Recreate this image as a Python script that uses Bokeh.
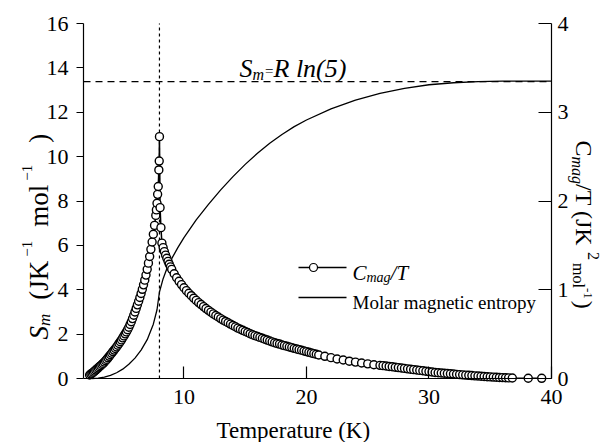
import math
from bokeh.plotting import figure
from bokeh.models import Range1d, LinearAxis, Label, FixedTicker
from bokeh.embed import file_html
from bokeh.resources import INLINE

# ---------------- data ----------------
# C_mag/T (J K^-2 mol^-1) vs temperature (K)
T_cmag = [2.30, 2.40, 2.50, 2.60, 2.70, 2.80, 2.90, 3.00, 3.10, 3.20, 3.30, 3.40, 3.50, 3.60, 3.70,
          3.80, 3.90, 4.00, 4.10, 4.20, 4.30, 4.40, 4.50, 4.60, 4.70, 4.80, 4.90, 5.00, 5.10, 5.20,
          5.30, 5.40, 5.50, 5.60, 5.70, 5.80, 5.90, 6.00, 6.10, 6.20, 6.30, 6.40, 6.50, 6.60, 6.70,
          6.80, 6.90, 7.00, 7.10, 7.20, 7.30, 7.40, 7.50, 7.60, 7.70, 7.75, 7.80, 7.85, 7.90, 7.95,
          7.98, 8.00,
          8.05, 8.12, 8.20, 8.30, 8.40, 8.50, 8.60, 8.70, 8.80, 8.90, 9.00, 9.20, 9.40, 9.60, 9.80,
          10.0, 10.2, 10.4, 10.6, 10.8, 11.0, 11.2, 11.4, 11.6, 11.8, 12.0, 12.2, 12.4, 12.6, 12.8,
          13.0, 13.2, 13.4, 13.6, 13.8, 14.0, 14.2, 14.4, 14.6, 14.8, 15.0, 15.2, 15.4, 15.6, 15.8,
          16.0, 16.2, 16.4, 16.6, 16.8, 17.0, 17.2, 17.4, 17.6, 17.8, 18.0, 18.2, 18.4, 18.6, 18.8,
          19.0, 19.2, 19.4, 19.6, 19.8, 20.0, 20.2, 20.4, 20.6, 20.8, 21.0,
          21.5, 22.0, 22.5, 23.0, 23.5, 24.0, 24.5, 25.0, 25.5, 26.0,
          26.25, 26.50, 26.75, 27.00, 27.25, 27.50, 27.75, 28.00, 28.25, 28.50, 28.75, 29.00,
          29.25, 29.50, 29.75, 30.00, 30.25, 30.50, 30.75, 31.00, 31.25, 31.50, 31.75, 32.00,
          32.25, 32.50, 32.75, 33.00, 33.25, 33.50, 33.75, 34.00, 34.25, 34.50, 34.75, 35.00,
          35.25, 35.50, 35.75, 36.00, 36.25, 36.50, 36.80, 38.10, 39.20]
cmag_T = [0.040, 0.050, 0.060, 0.070, 0.083, 0.095, 0.108, 0.120, 0.133, 0.145, 0.158, 0.170, 0.185, 0.200, 0.215,
          0.233, 0.250, 0.268, 0.285, 0.303, 0.320, 0.338, 0.355, 0.375, 0.395, 0.415, 0.435, 0.458, 0.480, 0.503,
          0.525, 0.550, 0.578, 0.608, 0.640, 0.675, 0.713, 0.750, 0.790, 0.830, 0.870, 0.913, 0.958, 1.005, 1.055,
          1.108, 1.165, 1.230, 1.300, 1.375, 1.455, 1.538, 1.625, 1.725, 1.838, 1.900, 1.975, 2.075, 2.163, 2.350,
          2.450, 2.725,
          1.925, 1.700, 1.525, 1.475, 1.430, 1.390, 1.355, 1.320, 1.288, 1.258, 1.230, 1.180, 1.135, 1.095, 1.058,
          1.023, 0.990, 0.960, 0.933, 0.905, 0.880, 0.855, 0.833, 0.810, 0.788, 0.768, 0.748, 0.728, 0.710, 0.693,
          0.675, 0.658, 0.643, 0.628, 0.613, 0.598, 0.583, 0.568, 0.555, 0.543, 0.530, 0.518, 0.505, 0.493, 0.483,
          0.473, 0.463, 0.453, 0.443, 0.433, 0.423, 0.413, 0.403, 0.395, 0.388, 0.378, 0.370, 0.363, 0.355, 0.348,
          0.340, 0.333, 0.325, 0.318, 0.310, 0.303, 0.295, 0.288, 0.280, 0.273, 0.265,
          0.250, 0.235, 0.220, 0.208, 0.195, 0.185, 0.175, 0.165, 0.155, 0.148,
          0.145, 0.141, 0.136, 0.132, 0.127, 0.123, 0.118, 0.114, 0.109, 0.105, 0.100, 0.096,
          0.091, 0.087, 0.082, 0.078, 0.073, 0.068, 0.065, 0.062, 0.059, 0.056, 0.053, 0.050,
          0.047, 0.044, 0.041, 0.038, 0.036, 0.033, 0.030, 0.028, 0.025, 0.023, 0.020, 0.018,
          0.016, 0.014, 0.012, 0.010, 0.009, 0.007, 0.006, 0.003, 0.002]

# Molar magnetic entropy S_m (J K^-1 mol^-1)
T_entropy = [2.5, 3.0, 3.5, 4.0, 4.5, 5.0, 5.5, 6.0, 6.5, 7.0, 7.5, 7.8, 8.0, 8.3, 8.6, 9.0, 9.5,
             10.0, 11.0, 12.0, 13.0, 14.0, 15.0, 16.0, 17.0, 18.0, 19.0, 20.0, 22.0, 24.0, 26.0,
             28.0, 30.0, 32.0, 34.0, 36.0, 38.0, 40.0]
S_entropy = [0.00, 0.02, 0.06, 0.14, 0.26, 0.42, 0.64, 0.92, 1.28, 1.75, 2.45, 3.10, 3.90, 4.50, 4.95,
             5.40, 5.90, 6.35, 7.15, 7.85, 8.50, 9.10, 9.65, 10.15, 10.60, 11.00, 11.35, 11.65, 12.15,
             12.55, 12.85, 13.08, 13.24, 13.33, 13.38, 13.40, 13.40, 13.40]

T_order = 8.0                 # ordering temperature (dotted line)
S_Rln5 = 8.314 * math.log(5)  # R ln(5)

x_bounds = (1.8, 40.0)
y_bounds = (0.0, 16.0)
y2_bounds = (0.0, 4.0)
x_ticks = [10, 20, 30, 40]
y_ticks = [0, 2, 4, 6, 8, 10, 12, 14, 16]
y2_ticks = [0, 1, 2, 3, 4]

# ---------------- layout ----------------
W, H = 613, 442
FL, FR, FT, FB = 83, 551, 23, 378      # pixel edges of the plotting box
FONT = "Liberation Serif"

# the frame fills the canvas; axes are pinned at the box edges with fixed_location
kx = (x_bounds[1] - x_bounds[0]) / (FR - FL)
ky = (y_bounds[1] - y_bounds[0]) / (FB - FT)
x_lo, x_hi = x_bounds[0] - FL * kx, x_bounds[1] + (W - FR) * kx
y_lo, y_hi = y_bounds[0] - (H - FB) * ky, y_bounds[1] + FT * ky
r2 = (y2_bounds[1] - y2_bounds[0]) / (y_bounds[1] - y_bounds[0])

p = figure(width=W, height=H, x_range=Range1d(x_lo, x_hi), y_range=Range1d(y_lo, y_hi),
           output_backend="svg", toolbar_location=None, title=None,
           min_border=0, min_border_left=0, min_border_right=0, min_border_top=0, min_border_bottom=0)
p.extra_y_ranges = {"cm": Range1d(y_lo * r2, y_hi * r2)}
p.add_layout(LinearAxis(y_range_name="cm"), "right")
p.xgrid.visible = False
p.ygrid.visible = False
p.outline_line_color = None
p.background_fill_color = "white"
p.border_fill_color = "white"

def style_axis(ax, ticks, bounds, loc, t_in, t_out, standoff):
    ax.ticker = FixedTicker(ticks=ticks)
    ax.bounds = bounds
    ax.fixed_location = loc
    ax.minor_tick_line_color = None
    ax.major_tick_in = t_in
    ax.major_tick_out = t_out
    ax.major_tick_line_color = "black"
    ax.major_tick_line_width = 1.2
    ax.axis_line_color = "black"
    ax.axis_line_width = 1.2
    ax.major_label_text_font = FONT
    ax.major_label_text_font_size = "22px"
    ax.major_label_text_color = "black"
    ax.major_label_standoff = standoff
    ax.axis_label = None

style_axis(p.below[0], x_ticks, x_bounds, y_bounds[0], 12, 0, 11)
style_axis(p.left[0], y_ticks, y_bounds, x_bounds[0], 0, 7, 8)
style_axis(p.right[0], y2_ticks, y2_bounds, x_bounds[1], 13, 0, 6)

def dx(px):
    return x_lo + px * kx

def dy(py):
    return y_lo + (H - py) * ky

# reference lines
p.segment(x0=[T_order], y0=[y_bounds[0]], x1=[T_order], y1=[y_bounds[1]],
          line_color="black", line_width=1.2, line_dash="3 3")
p.line(list(x_bounds), [S_Rln5, S_Rln5], line_color="black", line_width=1.1, line_dash="7 5")

# data
p.line(T_entropy, S_entropy, line_color="black", line_width=1.3)
p.line(T_cmag, cmag_T, y_range_name="cm", line_color="black", line_width=1.5)
p.scatter(T_cmag, cmag_T, y_range_name="cm", marker="circle", size=8,
          fill_color="white", line_color="black", line_width=1.4)

# ---------------- rich text helper ----------------
REG = {' ': 250, '(': 333, ')': 333, '-': 333, '/': 278, '=': 564, 'J': 389, 'K': 722, 'S': 556,
       'T': 611, 'C': 667, 'R': 667, 'm': 778, 'o': 500, 'l': 278, 'a': 444, 'g': 500, 'n': 500,
       'e': 444, 't': 278, 'i': 278, 'c': 444, 'r': 333, 'p': 500, 'y': 500, 'M': 889, '1': 500,
       '2': 500, '5': 500, '\u2212': 564}
ITA = {' ': 250, '(': 333, ')': 333, '/': 278, '=': 675, 'S': 500, 'm': 722, 'a': 500, 'g': 500,
       'C': 667, 'T': 556, 'R': 611, 'l': 278, 'n': 500, '5': 500}

def tw(s, size, italic):
    tab = ITA if italic else REG
    return sum(tab.get(c, 500) for c in s) / 1000.0 * size

def rich(segs, px, py, angle=0.0):
    """segs: (text, size, italic, shift_up, gap_before)"""
    ca, sa = math.cos(angle), math.sin(angle)
    dvec = (ca, -sa)
    uvec = (-sa, -ca)
    pos = 0.0
    for seg in segs:
        text, size, italic, shift = seg[:4]
        pos += seg[4] if len(seg) > 4 else 0.0
        sx = px + pos * dvec[0] + shift * uvec[0]
        sy = py + pos * dvec[1] + shift * uvec[1]
        p.add_layout(Label(x=dx(sx), y=dy(sy), text=text, text_font=FONT,
                           text_font_size=f"{size}px",
                           text_font_style="italic" if italic else "normal",
                           text_align="left", text_baseline="alphabetic",
                           text_color="black", angle=angle))
        pos += tw(text, size, italic)

# axis titles
rich([("Temperature (K)", 23, False, 0)], 216, 430)
rich([("S", 27, True, 0), ("m", 17, True, -6), ("(JK", 27, False, 0, 14),
      ("\u22121", 15, False, 12, 4), ("mol", 27, False, 0, 14),
      ("\u22121", 15, False, 12, 4), (")", 27, False, 0, 22)],
     38, 339, math.pi / 2)
rich([("C", 24, False, 0), ("mag", 16, True, -6), ("/T  (JK", 24, False, 0), ("2", 16, False, 10),
      ("mol", 16, False, -5, 3), ("-1", 13, False, 4), (")", 24, False, 0, 2)],
     583, 140, -math.pi / 2)

# annotation
rich([("S", 26, True, 0), ("m", 16, True, -6), ("=", 15, False, -2, 1), (" R ln(5)", 26, True, 0)],
     239, 68)

# legend
p.line([dx(298), dx(346)], [dy(267), dy(267)], line_color="black", line_width=1.5)
p.scatter([dx(313)], [dy(267)], marker="circle", size=8, fill_color="white", line_color="black", line_width=1.2)
rich([("C", 21, True, 0), ("mag", 14, True, -5), ("/T", 21, True, 0)], 352, 272)
p.line([dx(298), dx(346)], [dy(297), dy(297)], line_color="black", line_width=1.3)
rich([("Molar magnetic entropy", 19, False, 0)], 352, 302)

open("out.html", "w").write(file_html(p, INLINE))
